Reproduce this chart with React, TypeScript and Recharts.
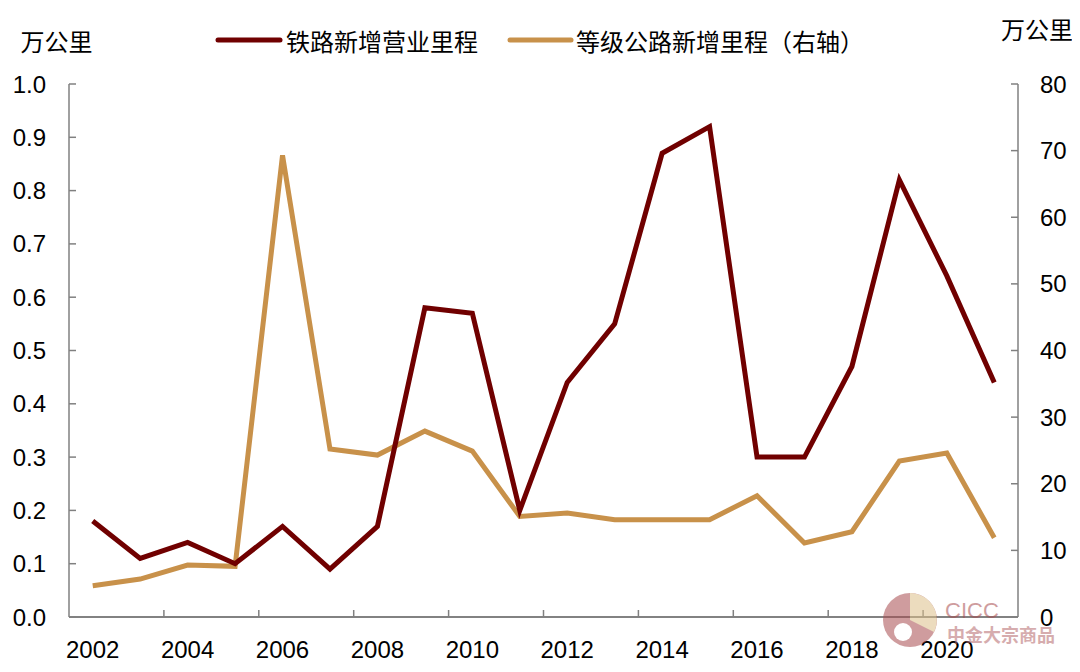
import React from "react";
import { LineChart, Line, XAxis, YAxis } from "recharts";

const years = [2002, 2003, 2004, 2005, 2006, 2007, 2008, 2009, 2010, 2011, 2012, 2013, 2014, 2015, 2016, 2017, 2018, 2019, 2020, 2021];
const railway = [0.18, 0.11, 0.14, 0.10, 0.17, 0.09, 0.17, 0.58, 0.57, 0.20, 0.44, 0.55, 0.87, 0.92, 0.30, 0.30, 0.47, 0.82, 0.64, 0.44];
const highway = [4.7, 5.7, 7.8, 7.6, 69.3, 25.2, 24.3, 27.9, 24.9, 15.1, 15.6, 14.6, 14.6, 14.6, 18.2, 11.1, 12.8, 23.4, 24.6, 11.9];
const xLabelYears = [2002, 2004, 2006, 2008, 2010, 2012, 2014, 2016, 2018, 2020];
const xTickMarks = [2003.5, 2005.5, 2007.5, 2009.5, 2011.5, 2013.5, 2015.5, 2017.5, 2019.5];
const leftTicks = [0, 0.1, 0.2, 0.3, 0.4, 0.5, 0.6, 0.7, 0.8, 0.9, 1.0];
const rightTicks = [0, 10, 20, 30, 40, 50, 60, 70, 80];

const seriesNames = { railway: "铁路新增营业里程", highway: "等级公路新增里程（右轴）" };
const unitLabel = "万公里";

const data = years.map((y, i) => ({ year: y, railway: railway[i], highway: highway[i] }));

const RED = "#700000";
const GOLD = "#C8914A";
const AXIS = "#808080";
const NUM_FONT = "'Liberation Sans', Arial, sans-serif";
const CJK_FONT = "'Noto Sans CJK SC', 'Noto Sans', sans-serif";

const LeftTick = (props: any) => {
  const { x, y, payload } = props;
  return (
    <g>
      <line x1={x} y1={y} x2={x + 7} y2={y} stroke={AXIS} strokeWidth={1.5} />
      <text x={x - 23} y={y} textAnchor="end" dominantBaseline="central" fontFamily={NUM_FONT} fontSize={24} fill="#000">
        {Number(payload.value).toFixed(1)}
      </text>
    </g>
  );
};

const RightTick = (props: any) => {
  const { x, y, payload } = props;
  return (
    <g>
      <line x1={x} y1={y} x2={x - 7} y2={y} stroke={AXIS} strokeWidth={1.5} />
      <text x={x + 22} y={y} textAnchor="start" dominantBaseline="central" fontFamily={NUM_FONT} fontSize={24} fill="#000">
        {payload.value}
      </text>
    </g>
  );
};

const BottomTick = (props: any) => {
  const { x, y, payload } = props;
  const v = Number(payload.value);
  if (v % 1 !== 0) {
    return <line x1={x} y1={y} x2={x} y2={y - 7} stroke={AXIS} strokeWidth={1.5} />;
  }
  return (
    <text x={x} y={y + 32} textAnchor="middle" dominantBaseline="central" fontFamily={NUM_FONT} fontSize={24} fill="#000">
      {v}
    </text>
  );
};

const allXTicks = [...xLabelYears, ...xTickMarks].sort((a, b) => a - b);

export default function App() {
  return (
    <div style={{ position: "relative", width: 1064, height: 656 }}>
      <LineChart width={1064} height={656} data={data} margin={{ top: 76, right: 0, bottom: 0, left: 0 }}>
        <XAxis
          dataKey="year"
          type="number"
          domain={[2001.5, 2021.5]}
          ticks={allXTicks}
          interval={0}
          height={47}
          tickLine={false}
          tickSize={0}
          tickMargin={0}
          axisLine={{ stroke: "#595959", strokeWidth: 1.5 }}
          tick={<BottomTick />}
        />
        <YAxis
          yAxisId="left"
          orientation="left"
          width={61}
          domain={[0, 1]}
          ticks={leftTicks}
          interval={0}
          tickLine={false}
          tickSize={0}
          tickMargin={0}
          axisLine={{ stroke: AXIS, strokeWidth: 1.5 }}
          tick={<LeftTick />}
        />
        <YAxis
          yAxisId="right"
          orientation="right"
          width={54}
          domain={[0, 80]}
          ticks={rightTicks}
          interval={0}
          tickLine={false}
          tickSize={0}
          tickMargin={0}
          axisLine={{ stroke: AXIS, strokeWidth: 1.5 }}
          tick={<RightTick />}
        />
        <Line yAxisId="right" type="linear" dataKey="highway" stroke={GOLD} strokeWidth={5} dot={false} isAnimationActive={false} />
        <Line yAxisId="left" type="linear" dataKey="railway" stroke={RED} strokeWidth={5} dot={false} isAnimationActive={false} />
      </LineChart>
      <svg width={1064} height={656} style={{ position: "absolute", left: 0, top: 0, pointerEvents: "none" }}>
        <text x={12.5} y={32} dominantBaseline="central" fontFamily={CJK_FONT} fontSize={24} fill="#000">{unitLabel}</text>
        <text x={993} y={20} dominantBaseline="central" fontFamily={CJK_FONT} fontSize={24} fill="#000">{unitLabel}</text>
        <line x1={210} y1={32} x2={272} y2={32} stroke={RED} strokeWidth={5} strokeLinecap="round" />
        <text x={278} y={32} dominantBaseline="central" fontFamily={CJK_FONT} fontSize={24} fill="#000">{seriesNames.railway}</text>
        <line x1={502} y1={32} x2={563} y2={32} stroke={GOLD} strokeWidth={5} strokeLinecap="round" />
        <text x={568} y={32} dominantBaseline="central" fontFamily={CJK_FONT} fontSize={24} fill="#000">{seriesNames.highway}</text>
        <g opacity={0.55}>
          <circle cx={902} cy={612} r={27} fill="#A84D50" />
          <path d="M902 585 A27 27 0 0 1 926 624 L902 612 Z" fill="#DDC08A" />
          <circle cx={895} cy={624} r={9} fill="#fff" />
          <text x={937} y={602} dominantBaseline="central" fontFamily={NUM_FONT} fontSize={22} fill="#A84D50">CICC</text>
          <text x={939} y={626} dominantBaseline="central" fontFamily={CJK_FONT} fontSize={18} fontWeight={700} fill="#B56A6C">中金大宗商品</text>
        </g>
      </svg>
    </div>
  );
}
